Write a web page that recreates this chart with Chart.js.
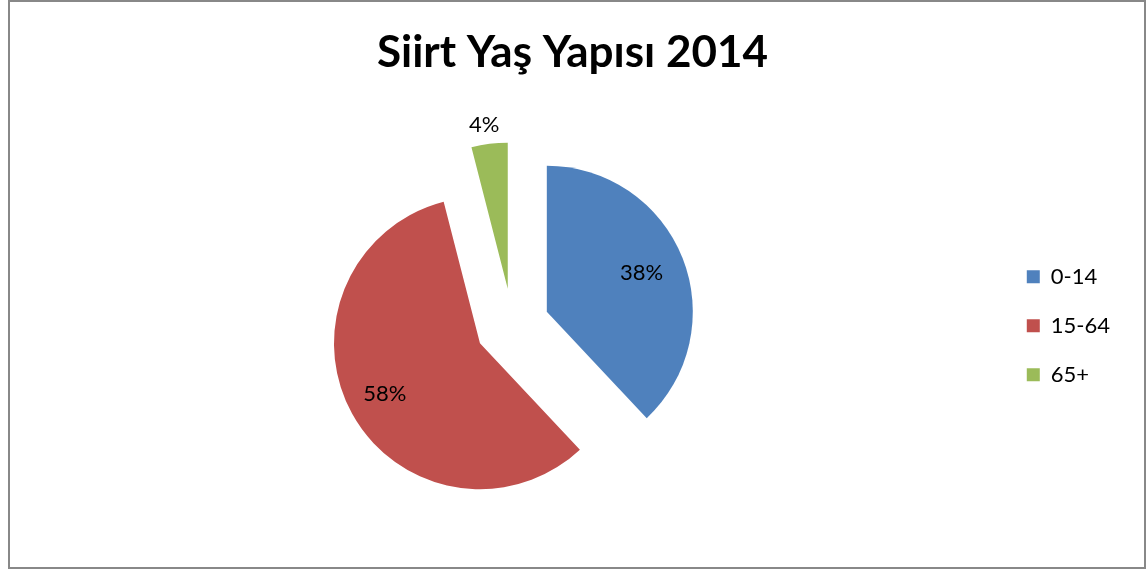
<!DOCTYPE html>
<html>
<head>
<meta charset="utf-8">
<script src="https://cdn.jsdelivr.net/npm/chart.js@4.4.0/dist/chart.umd.min.js"></script>
<style>
  html, body { margin: 0; padding: 0; background: #fff; }
  #kutu { position: relative; width: 1148px; height: 569px; }
  #grafico { position: absolute; left: 0; top: 0; }
  #cerceve { position: absolute; left: 8px; top: 0; width: 1138px; height: 569px; border: 2px solid #888; box-sizing: border-box; pointer-events: none; }
</style>
</head>
<body>
<div id="kutu">
  <canvas id="grafico" width="1148" height="569"></canvas>
  <div id="cerceve"></div>
</div>
<script>
const baslik = 'Siirt Yaş Yapısı 2014'
const gruplar = ['0-14', '15-64', '65+']
const oranlar = [38, 58, 4]
const renkler = ['#4F81BD', '#C0504D', '#9BBB59']

// how far each slice is pulled out from the centre
const ayirma = 37

// draw every arc shifted along its own bisector (exploded pie)
const patlat = {
  id: 'patlat',
  beforeDatasetDraw(chart, args) {
    const ctx = chart.ctx
    args.meta.data.forEach(arc => {
      const orta = (arc.startAngle + arc.endAngle) / 2
      ctx.save()
      ctx.translate(Math.cos(orta) * ayirma, Math.sin(orta) * ayirma)
      arc.draw(ctx, chart.chartArea)
      ctx.restore()
    })
    return false
  }
}

// percentage labels, small slices get theirs outside
const etiketler = {
  id: 'etiketler',
  afterDatasetsDraw(chart) {
    const ctx = chart.ctx
    const meta = chart.getDatasetMeta(0)
    const toplam = oranlar.reduce((a, b) => a + b, 0)
    ctx.save()
    ctx.font = '22px Lato'
    ctx.fillStyle = '#000'
    ctx.textAlign = 'center'
    ctx.textBaseline = 'middle'
    meta.data.forEach((arc, i) => {
      const orta = (arc.startAngle + arc.endAngle) / 2
      const pay = oranlar[i] / toplam
      const r = pay < 0.1 ? arc.outerRadius + 19 : arc.outerRadius * 0.72
      const x = arc.x + Math.cos(orta) * (ayirma + r)
      const y = arc.y + Math.sin(orta) * (ayirma + r)
      ctx.fillText(Math.round(pay * 100) + '%', x - 3, y)
    })
    ctx.restore()
  }
}

const ciz = () => {
  new Chart(document.getElementById('grafico'), {
    type: 'pie',
    data: {
      labels: gruplar,
      datasets: [{
        data: oranlar,
        backgroundColor: renkler,
        borderWidth: 0,
        radius: 146
      }]
    },
    options: {
      responsive: false,
      animation: false,
      layout: { padding: { left: 25, right: 28, top: 0, bottom: 0 } },
      plugins: {
        title: {
          display: true,
          text: baslik,
          color: '#000',
          font: { family: 'Lato', size: 44, weight: 'bold' },
          padding: { top: 26, bottom: 3 }
        },
        legend: {
          position: 'right',
          // empty legend title only pushes the items down to mid height
          title: { display: true, text: '', padding: { top: 68, bottom: 0 } },
          labels: {
            color: '#000',
            font: { family: 'Lato', size: 22 },
            boxWidth: 13,
            boxHeight: 13,
            padding: 27
          }
        },
        tooltip: { enabled: false }
      }
    },
    plugins: [patlat, etiketler]
  })
}

Promise.all([
  document.fonts.load('22px Lato'),
  document.fonts.load('bold 44px Lato')
]).then(ciz, ciz)
</script>
</body>
</html>
